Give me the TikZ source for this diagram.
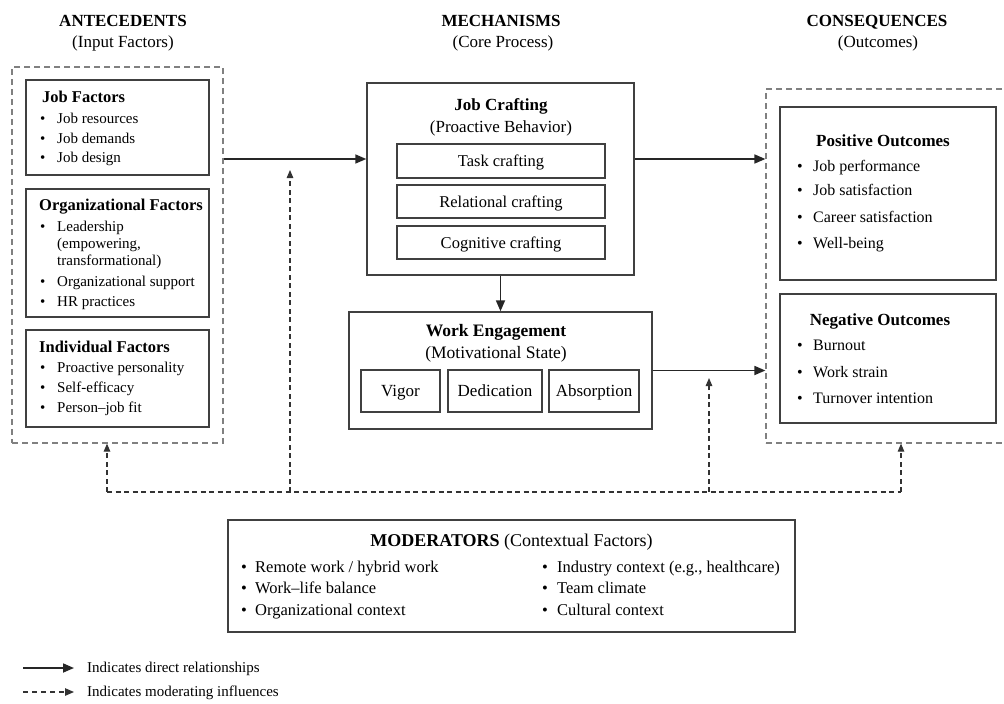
\documentclass[tikz,border=0pt]{standalone}
\usepackage{fontspec}
\setmainfont{Liberation Serif}
\usetikzlibrary{arrows.meta,fit}

\newcommand\bul[1][17pt]{\makebox[#1][l]{\textbullet}}

\begin{document}
\begin{tikzpicture}[x=1pt,y=-1pt,
    box/.style={draw=black!75,line width=1.4pt,inner sep=0pt},
    group/.style={draw=black!50,line width=1.2pt,dash pattern=on 6pt off 4pt,inner sep=0pt},
    head/.style={anchor=base,inner sep=0pt,font=\bfseries\fontsize{17}{20}\selectfont},
    subhead/.style={anchor=base,inner sep=0pt,font=\fontsize{17}{20}\selectfont},
    title/.style={anchor=base west,inner sep=0pt,font=\bfseries\fontsize{16.5}{20}\selectfont},
    ctitle/.style={anchor=base,inner sep=0pt,font=\bfseries\fontsize{17}{20}\selectfont},
    csub/.style={anchor=base,inner sep=0pt,font=\fontsize{17}{20}\selectfont},
    item/.style={anchor=base west,inner sep=0pt,font=\fontsize{15}{18}\selectfont},
    ritem/.style={anchor=base west,inner sep=0pt,font=\fontsize{16}{19}\selectfont},
    mitem/.style={anchor=base west,inner sep=0pt,font=\fontsize{16.5}{19}\selectfont},
    sub/.style={anchor=base,inner sep=0pt,font=\fontsize{16.5}{19}\selectfont},
    direct/.style={-{Triangle[length=11pt,width=9pt]},line width=1.7pt,draw=black!85},
    modline/.style={line width=1.1pt,draw=black!80,dash pattern=on 5pt off 3.5pt},
    modarrow/.style={modline,-{Triangle[length=8pt,width=6.5pt]}}]
  \useasboundingbox (0,0) rectangle (1004,704);

  % column headings
  \node[head] (antec-h) at (123,26.5) {ANTECEDENTS};
  \node[subhead] (antec-s) at (123,47.5) {(Input Factors)};
  \node[head] (mech-h) at (501,26.5) {MECHANISMS};
  \node[subhead] (mech-s) at (503,47.5) {(Core Process)};
  \node[head] (cons-h) at (877,26.5) {CONSEQUENCES};
  \node[subhead] (cons-s) at (878,47.5) {(Outcomes)};

  % antecedents
  \node[group,fit={(12,67) (223,443)}] (antec) {};
  \node[box,fit={(26,80) (209,175)}] (jobf) {};
  \node[box,fit={(26,189) (209,317)}] (orgf) {};
  \node[box,fit={(26,330) (209,427)}] (indf) {};

  \node[title] (jobf-t) at (42,102.5) {Job Factors};
  \foreach \txt [count=\i from 0] in {Job resources,Job demands,Job design}
    \node[item] (jobf-\i) at (40,123.5+19.7*\i) {\bul\txt};

  \node[title] (orgf-t) at (39,210.5) {Organizational Factors};
  \node[item] (orgf-0) at (40,231) {\bul Leadership};
  \node[item] (orgf-1) at (57,248.5) {(empowering,};
  \node[item] (orgf-2) at (57,265.5) {transformational)};
  \node[item] (orgf-3) at (40,286) {\bul Organizational support};
  \node[item] (orgf-4) at (40,306) {\bul HR practices};

  \node[title] (indf-t) at (39,352) {Individual Factors};
  \foreach \txt [count=\i from 0] in {Proactive personality,Self-efficacy,Person--job fit}
    \node[item] (indf-\i) at (40,372+20*\i) {\bul\txt};

  % mechanisms
  \node[box,fit={(367,83) (634,275)}] (jc) {};
  \node[ctitle] (jc-t) at (501,110.5) {Job Crafting};
  \node[csub] (jc-s) at (501,132.5) {(Proactive Behavior)};
  \node[box,fit={(397,144) (605,178)}] (task) {};
  \node[box,fit={(397,185) (605,218)}] (rel) {};
  \node[box,fit={(397,226) (605,259)}] (cog) {};
  \node[sub] (task-t) at ([yshift=-5.5pt]task.center) {Task crafting};
  \node[sub] (rel-t) at ([yshift=-5.5pt]rel.center) {Relational crafting};
  \node[sub] (cog-t) at ([yshift=-5.5pt]cog.center) {Cognitive crafting};

  \node[box,fit={(349,312) (652,429)}] (we) {};
  \node[ctitle,font=\bfseries\fontsize{17.5}{20}\selectfont] (we-t) at (496,336.5) {Work Engagement};
  \node[csub,font=\fontsize{17.5}{20}\selectfont] (we-s) at (496,358.5) {(Motivational State)};
  \node[box,fit={(361,370) (440,412)}] (vig) {};
  \node[box,fit={(448,370) (542,412)}] (ded) {};
  \node[box,fit={(549,370) (639,412)}] (abs) {};
  \node[sub,font=\fontsize{17}{19}\selectfont] (vig-t) at ([yshift=-5.5pt]vig.center) {Vigor};
  \node[sub,font=\fontsize{17}{19}\selectfont] (ded-t) at ([yshift=-5.5pt]ded.center) {Dedication};
  \node[sub,font=\fontsize{17}{19}\selectfont] (abs-t) at ([yshift=-5.5pt]abs.center) {Absorption};

  % consequences
  \node[group,fit={(766,89) (1012,443)}] (conseq) {};
  \node[box,fit={(780,107) (996,280)}] (pos) {};
  \node[box,fit={(780,294) (996,423)}] (neg) {};

  \node[ctitle] (pos-t) at (883,146.5) {Positive Outcomes};
  \node[ritem] (pos-0) at (797,171.5) {\bul[16pt]Job performance};
  \node[ritem] (pos-1) at (797,195.5) {\bul[16pt]Job satisfaction};
  \node[ritem] (pos-2) at (797,222) {\bul[16pt]Career satisfaction};
  \node[ritem] (pos-3) at (797,248) {\bul[16pt]Well-being};

  \node[ctitle] (neg-t) at (880,325.5) {Negative Outcomes};
  \foreach \txt [count=\i from 0] in {Burnout,Work strain,Turnover intention}
    \node[ritem] (neg-\i) at (797,350.5+26.7*\i) {\bul[16pt]\txt};

  % direct relationships
  \coordinate (row1) at (0,159);
  \draw[direct] (antec.east |- row1) -- (jc.west |- row1);
  \draw[direct] (jc.east |- row1) -- (conseq.west |- row1);
  \draw[direct] (jc.south) -- (we.north);
  \draw[direct] (we.east) -- (conseq.west |- we.east);

  % moderating influences
  \coordinate (busL) at (107,492);
  \coordinate (busA) at (290,492);
  \coordinate (busB) at (709,492);
  \coordinate (busR) at (901,492);
  \coordinate (tipA) at (290,170);
  \coordinate (tipB) at (709,378);
  \draw[modline] (busL) -- (busR);
  \draw[modarrow] (busL) -- (busL |- antec.south);
  \draw[modarrow] (busA) -- (tipA);
  \draw[modarrow] (busB) -- (tipB);
  \draw[modarrow] (busR) -- (busR |- conseq.south);

  % moderators
  \node[box,fit={(228,520) (795,632)}] (mod) {};
  \node[anchor=base,inner sep=0pt,font=\fontsize{18}{21}\selectfont] (mod-t) at (511.5,546)
    {\textbf{MODERATORS} (Contextual Factors)};
  \foreach \txt [count=\i from 0] in {Remote work / hybrid work,Work--life balance,Organizational context}
    \node[mitem] (modl-\i) at (241,572+21.5*\i) {\bul[14pt]\txt};
  \foreach \txt [count=\i from 0] in {{Industry context (e.g., healthcare)},Team climate,Cultural context}
    \node[mitem] (modr-\i) at (542,572+21.5*\i) {\bul[15pt]\txt};

  % legend
  \coordinate (lgd1a) at (23,668);
  \coordinate (lgd1b) at (74,668);
  \coordinate (lgd2a) at (23,692);
  \coordinate (lgd2b) at (74,692);
  \draw[direct] (lgd1a) -- (lgd1b);
  \draw[modline,-{Triangle[length=9pt,width=7.5pt]},dash pattern=on 5pt off 4pt] (lgd2a) -- (lgd2b);
  \node[item] (lgd1) at (87,672.5) {Indicates direct relationships};
  \node[item] (lgd2) at (87,696.5) {Indicates moderating influences};
\end{tikzpicture}
\end{document}
